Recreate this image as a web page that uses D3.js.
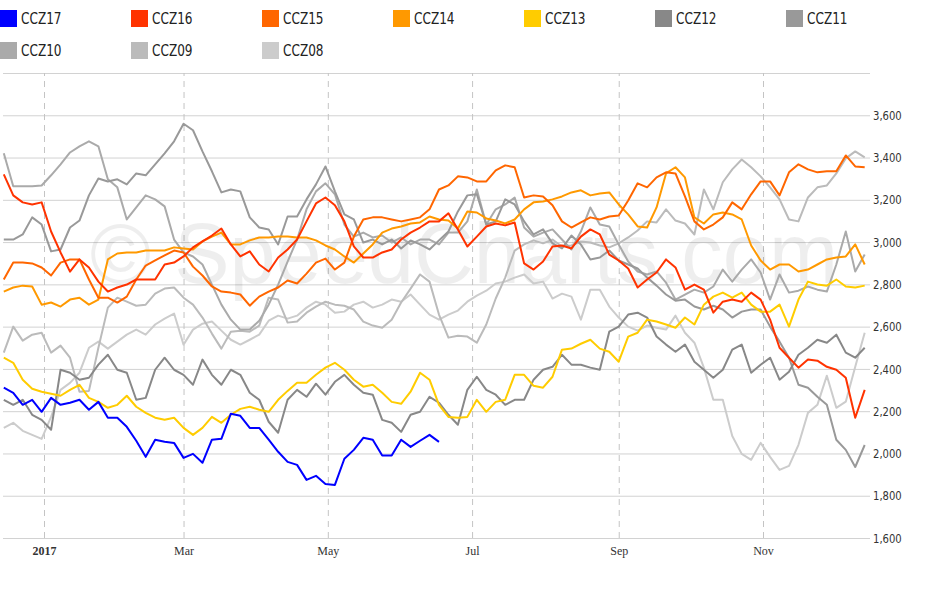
<!DOCTYPE html>
<html><head><meta charset="utf-8">
<script src="https://cdn.jsdelivr.net/npm/d3@7"></script>
<style>
body{margin:0;background:#fff;}
svg{display:block;}
.legend text{font-family:"Liberation Sans Narrow","DejaVu Sans Condensed","Arial Narrow",sans-serif;font-size:16px;fill:#222;}
.yaxis text{font-family:"Liberation Sans Narrow","DejaVu Sans Condensed",sans-serif;font-size:13px;fill:#333;}
.xaxis text{font-family:"Liberation Serif","DejaVu Serif",serif;font-size:12px;fill:#333;}
</style></head><body>
<svg id="chart" width="930" height="610"></svg>
<script>
const dates = [
"2016-12-15","2016-12-19","2016-12-23","2016-12-27","2016-12-31",
"2017-01-04","2017-01-08","2017-01-12","2017-01-16","2017-01-20","2017-01-24","2017-01-28",
"2017-02-01","2017-02-05","2017-02-09","2017-02-13","2017-02-17","2017-02-21","2017-02-25",
"2017-03-01","2017-03-05","2017-03-09","2017-03-13","2017-03-17","2017-03-21","2017-03-25","2017-03-29",
"2017-04-02","2017-04-06","2017-04-10","2017-04-14","2017-04-18","2017-04-22","2017-04-26","2017-04-30",
"2017-05-04","2017-05-08","2017-05-12","2017-05-16","2017-05-20","2017-05-24","2017-05-28",
"2017-06-01","2017-06-05","2017-06-09","2017-06-13","2017-06-17","2017-06-21","2017-06-25","2017-06-29",
"2017-07-03","2017-07-07","2017-07-11","2017-07-15","2017-07-19","2017-07-23","2017-07-27","2017-07-31",
"2017-08-04","2017-08-08","2017-08-12","2017-08-16","2017-08-20","2017-08-24","2017-08-28",
"2017-09-01","2017-09-05","2017-09-09","2017-09-13","2017-09-17","2017-09-21","2017-09-25","2017-09-29",
"2017-10-03","2017-10-07","2017-10-11","2017-10-15","2017-10-19","2017-10-23","2017-10-27","2017-10-31",
"2017-11-04","2017-11-08","2017-11-12","2017-11-16","2017-11-20","2017-11-24","2017-11-28",
"2017-12-02","2017-12-06","2017-12-10","2017-12-14"];

const CCZ17 = [2311,2287,2230,2254,2197,2263,2230,2240,2254,2207,
2244,2169,2169,2126,2060,1984,2065,2055,2050,1979,
1998,1956,2065,2069,2188,2178,2121,2121,2065,2008,
1960,1946,1875,1894,1856,1851,1975,2017,2074,2065,
1990,1990,2065,2031,2060,2088,2055];

const CCZ16 = [3320,3221,3188,3178,3188,3050,2951,2860,2918,2880,
2813,2766,2785,2799,2823,2823,2823,2894,2903,2932,
2975,3003,3031,3064,2989,2932,2956,2894,2861,2927,
2965,3012,3098,3183,3211,3174,3098,2980,2927,2927,
2951,2965,3012,3045,3069,3098,3098,3136,3060,2979,
3026,3074,3088,3079,3093,2899,2870,2908,2979,2984,
2970,3026,3060,3036,2941,2913,2875,2785,2823,2856,
2918,2880,2775,2799,2775,2666,2718,2728,2718,2761,
2728,2633,2500,2453,2406,2444,2439,2410,2396,2358,
2169,2301];

const CCZ15 = [2823,2903,2903,2899,2880,2842,2903,2918,2918,2823,
2737,2737,2714,2742,2823,2889,2913,2937,2960,2951,
2884,2842,2790,2766,2761,2752,2699,2742,2766,2785,
2818,2804,2851,2903,2922,2870,2903,3026,3107,3117,
3117,3107,3098,3107,3117,3155,3249,3268,3311,3306,
3287,3287,3339,3363,3354,3211,3221,3216,3174,3098,
3069,3093,3117,3107,3121,3126,3197,3278,3259,3306,
3330,3325,3216,3098,3060,3083,3117,3188,3155,3226,
3287,3287,3221,3330,3368,3344,3330,3335,3335,3410,
3358,3354];

const CCZ14 = [2766,2785,2794,2790,2704,2714,2695,2728,2737,2704,
2728,2918,2946,2951,2951,2960,2960,2960,2975,2970,
2965,3003,3026,3045,2989,2989,3008,3022,3022,3026,
3026,3022,3022,3008,2984,2965,2932,2903,2946,2989,
3045,3064,3074,3088,3093,3121,3107,3102,3064,3145,
3140,3112,3102,3088,3107,3155,3188,3192,3202,3216,
3235,3245,3221,3230,3235,3178,3131,3074,3069,3164,
3325,3354,3306,3117,3088,3131,3140,3131,3107,2984,
2913,2870,2894,2894,2861,2870,2894,2918,2927,2932,
2989,2894];

const CCZ13 = [2453,2429,2349,2306,2292,2282,2273,2301,2325,2263,
2244,2216,2230,2273,2221,2192,2169,2159,2169,2121,
2088,2121,2173,2145,2183,2211,2221,2207,2197,2254,
2296,2334,2334,2372,2406,2429,2396,2349,2316,2325,
2287,2244,2235,2292,2382,2349,2230,2173,2169,2173,
2254,2197,2244,2254,2372,2372,2320,2311,2363,2491,
2496,2519,2538,2496,2481,2434,2553,2571,2633,2624,
2610,2595,2643,2610,2704,2742,2761,2737,2761,2704,
2671,2671,2704,2600,2728,2813,2799,2794,2823,2790,
2785,2794];

const CCZ12 = [2254,2230,2254,2183,2159,2112,2396,2382,2349,2358,
2420,2467,2396,2382,2254,2263,2396,2453,2396,2372,
2325,2444,2372,2325,2396,2372,2287,2254,2150,2098,
2254,2301,2268,2330,2278,2339,2372,2325,2287,2278,
2159,2145,2102,2183,2197,2268,2240,2183,2136,2301,
2363,2301,2278,2230,2254,2254,2349,2396,2410,2467,
2420,2420,2406,2396,2576,2600,2657,2666,2643,2553,
2515,2481,2515,2434,2396,2358,2396,2491,2515,2382,
2420,2453,2349,2387,2467,2500,2538,2524,2562,2477,
2453,2500];

const CCZ11 = [3012,3012,3036,3117,3083,2956,2965,3069,3102,3221,
3301,3287,3297,3273,3325,3316,3368,3420,3477,3560,
3529,3429,3335,3235,3249,3240,3117,3069,3060,2989,
3121,3121,3202,3273,3358,3240,3131,3107,2998,3012,
2989,3012,2970,3008,2989,2965,3008,3050,3145,3221,
3226,3083,3098,3202,3178,3098,3036,3060,2994,2970,
3031,2989,2918,2927,2960,2913,2894,2875,2832,2794,
2752,2723,2728,2695,2681,2699,2681,2643,2671,2681,
2681,2600,2529,2453,2325,2311,2268,2230,2065,2017,
1936,2040];

const CCZ10 = [3420,3264,3264,3264,3268,3316,3368,3424,3453,3477,
3453,3297,3259,3107,3164,3221,3202,3169,3012,2951,
2932,2894,2799,2704,2633,2586,2586,2628,2704,2799,
2908,3012,3155,3240,3278,3226,3083,3026,3045,3022,
3031,2998,3022,2989,3012,3012,2989,3045,3045,3098,
3249,3083,3155,3178,3211,3069,3026,3045,3060,3012,
2965,3050,3164,3083,3074,2989,2908,2861,2847,2861,
2808,2728,2752,2775,2761,2790,2870,2813,2870,2918,
2856,2728,2847,2761,2770,2790,2775,2766,2894,3050,
2861,2941];

const CCZ09 = [2477,2600,2534,2562,2571,2477,2510,2453,2292,2296,
2500,2690,2737,2718,2699,2704,2756,2780,2785,2737,
2704,2643,2567,2496,2576,2581,2576,2605,2737,2728,
2619,2624,2666,2695,2718,2704,2699,2681,2624,2605,
2595,2633,2714,2780,2847,2813,2657,2548,2557,2553,
2524,2610,2733,2832,2960,2989,3008,2994,3012,2979,
2984,3003,2998,2984,2975,2994,3022,3055,3098,3093,
3155,3102,3088,3036,3249,3155,3283,3344,3391,3354,
3311,3259,3202,3107,3098,3211,3259,3268,3325,3396,
3429,3401];

const CCZ08 = [2121,2145,2107,2088,2069,2173,2301,2334,2382,2500,
2529,2496,2529,2562,2586,2562,2610,2638,2662,2515,
2586,2614,2624,2581,2538,2515,2538,2562,2628,2652,
2638,2652,2690,2718,2704,2666,2671,2704,2718,2690,
2704,2728,2718,2752,2704,2657,2633,2657,2676,2718,
2747,2770,2804,2813,2832,2847,2804,2813,2733,2756,
2742,2633,2775,2775,2695,2643,2600,2581,2605,2595,
2586,2652,2571,2524,2406,2254,2254,2083,1998,1970,
2050,1984,1922,1941,2041,2192,2230,2368,2216,2245,
2410,2571];

const seriesNames = ["CCZ17","CCZ16","CCZ15","CCZ14","CCZ13","CCZ12","CCZ11","CCZ10","CCZ09","CCZ08"];
const seriesValues = [CCZ17,CCZ16,CCZ15,CCZ14,CCZ13,CCZ12,CCZ11,CCZ10,CCZ09,CCZ08];
const seriesColors = ["#0000ff","#ff3300","#ff6600","#ff9900","#ffcc00","#888888","#999999","#aaaaaa","#bbbbbb","#cccccc"];
const yTicks = [1600,1800,2000,2200,2400,2600,2800,3000,3200,3400,3600,3800];
const xTickDates = ["2017-01-01","2017-03-01","2017-05-01","2017-07-01","2017-09-01","2017-11-01"];
const xTickLabels = ["2017","Mar","May","Jul","Sep","Nov"];
const watermark = "\u00A9 SpeedCharts.com";

const parse = d3.timeParse("%Y-%m-%d");
const xDates = dates.map(parse);
const xTicks = xTickDates.map(parse);

const svg = d3.select("#chart");
svg.append("rect").attr("width",930).attr("height",610).attr("fill","#fff");

const x = d3.scaleTime().domain([parse("2017-01-01"), parse("2017-11-01")]).range([44, 763]);
const y = d3.scaleLinear().domain([1600, 3800]).range([538, 73]);

// horizontal grid + right labels
const fmt = d3.format(",");
svg.append("g").attr("class","yaxis").attr("transform","translate(870,0)")
  .call(d3.axisRight(y).tickValues(yTicks).tickSize(-867).tickPadding(3)
    .tickFormat(d => d === 3800 ? "" : fmt(d)))
  .call(g => g.select(".domain").remove())
  .call(g => g.selectAll(".tick line").attr("stroke","#d2d2d2"))
  .call(g => g.selectAll(".tick text").attr("x",0).attr("transform","translate(3,0) scale(0.86,1)"));

// vertical dashed grid
svg.append("g").attr("transform","translate(0,538)")
  .call(d3.axisBottom(x).tickValues(xTicks).tickSize(-465).tickFormat(""))
  .call(g => g.select(".domain").remove())
  .call(g => g.selectAll(".tick line").attr("stroke","#c4c4c4").attr("stroke-dasharray","6,5"));

// x labels
svg.append("g").attr("class","xaxis").attr("transform","translate(0,538)")
  .call(d3.axisBottom(x).tickValues(xTicks).tickSize(0).tickPadding(8)
    .tickFormat((d,i) => xTickLabels[i]))
  .call(g => g.select(".domain").remove())
  .call(g => g.selectAll(".tick text").filter((d,i) => i === 0).attr("font-weight","bold"));

// watermark
svg.append("text").attr("x",90).attr("y",283)
  .attr("textLength",748).attr("lengthAdjust","spacingAndGlyphs")
  .attr("font-family","Liberation Sans, Arial, sans-serif").attr("font-size",86)
  .attr("fill","#000").attr("fill-opacity",0.065).text(watermark);

// lines
const line = d3.line()
  .defined(d => d != null)
  .x((d,i) => x(xDates[i]))
  .y(d => y(d));

const order = d3.range(seriesNames.length).reverse();
svg.append("g").selectAll("path").data(order).join("path")
  .attr("fill","none")
  .attr("stroke", i => seriesColors[i])
  .attr("stroke-width",2)
  .attr("stroke-linejoin","round")
  .attr("d", i => line(seriesValues[i]));

// legend
const leg = svg.append("g").attr("class","legend");
const items = leg.selectAll("g").data(seriesNames).join("g")
  .attr("transform",(d,i) => `translate(${(i % 7) * 131},${Math.floor(i / 7) * 32 + 10})`);
items.append("rect").attr("width",17).attr("height",17).attr("fill",(d,i) => seriesColors[i]);
items.append("text").attr("transform","translate(21,14) scale(0.84,1)").text(d => d);
</script>
</body></html>
